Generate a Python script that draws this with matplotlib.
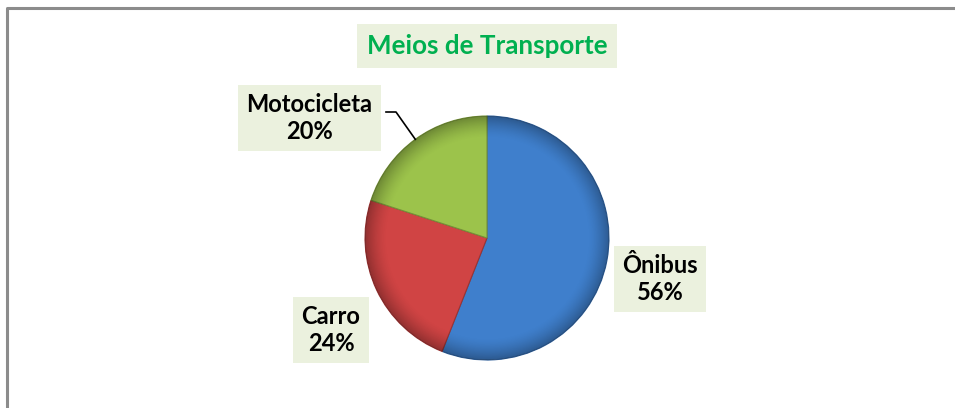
import numpy as np
import matplotlib
matplotlib.use("Agg")
import matplotlib.pyplot as plt
from matplotlib.patches import Circle

categories = ["Ônibus", "Carro", "Motocicleta"]
values = [56, 24, 20]
colors = ["#3f7fcc", "#d04444", "#9cc34b"]
title = "Meios de Transporte"

W, H = 955, 408
fig = plt.figure(figsize=(W / 100, H / 100), dpi=100)
ax = fig.add_axes([0, 0, 1, 1])
ax.set_xlim(0, W)
ax.set_ylim(0, H)
ax.axis("off")

def py(y):
    return H - y

# border (top + left)
ax.plot([7, 7, W], [0, py(8), py(8)], color="#8c8c8c", lw=2.2, solid_capstyle="butt")

cx, cy, R = 487, py(238), 122
wedges, _ = ax.pie(values, colors=colors, startangle=90, counterclock=False,
                   center=(cx, cy), radius=R, frame=True,
                   wedgeprops=dict(edgecolor="none", linewidth=0))
for w, c in zip(wedges, colors):
    w.set_edgecolor(tuple(np.array(matplotlib.colors.to_rgb(c)) * 0.75))
    w.set_linewidth(0.8)

# bevel shading overlay
n = 400
xs = np.linspace(cx - R, cx + R, n)
ys = np.linspace(cy - R, cy + R, n)
X, Y = np.meshgrid(xs, ys)
rr = np.hypot(X - cx, Y - cy) / R
alpha = np.clip((rr - 0.82) / 0.18, 0, 1) ** 1.5 * 0.3
img = np.zeros((n, n, 4))
img[..., 3] = alpha
im = ax.imshow(img, extent=(cx - R, cx + R, cy - R, cy + R), origin="lower",
               interpolation="bilinear", zorder=3)
im.set_clip_path(Circle((cx, cy), R, transform=ax.transData))

ax.set_xlim(0, W)
ax.set_ylim(0, H)
ax.set_aspect("auto")

font = "Lato"

ax.text(487, py(46), title, ha="center", va="center", fontsize=18.7,
        fontweight="bold", color="#00b050", family=font,
        bbox=dict(boxstyle="square,pad=0.38", fc="#ebf1de", ec="none"))

label_pos = {"Ônibus": (660, py(279)), "Carro": (331, py(330)), "Motocicleta": (309, py(118))}
for cat, v in zip(categories, values):
    x, y = label_pos[cat]
    ax.text(x, y, f"{cat}\n{v}%", ha="center", va="center", fontsize=17,
            fontweight="bold", color="black", family=font, linespacing=1.2,
            bbox=dict(boxstyle="square,pad=0.36", fc="#ebf1de", ec="none"),
            zorder=5)

# leader line for Motocicleta
wm = wedges[2]
mid = np.deg2rad((wm.theta1 + wm.theta2) / 2)
ex, ey = cx + R * np.cos(mid), cy + R * np.sin(mid)
ax.plot([386, 396, ex], [py(112), py(112), ey], color="black", lw=1.2, zorder=4)

fig.savefig("out.png", dpi=100, facecolor="white")
